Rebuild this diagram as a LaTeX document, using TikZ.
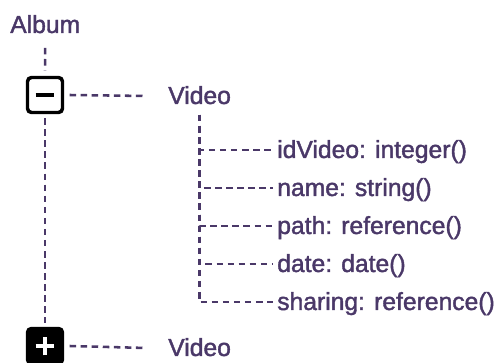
\documentclass[tikz,border=0pt]{standalone}
\usepackage{fontspec}
\setmainfont{Liberation Sans}
\newfontfamily\treefont[FakeBold=1.6]{Liberation Sans}
\definecolor{ink}{RGB}{74,56,104}
\begin{document}
\begin{tikzpicture}[x=0.75pt,y=-0.75pt,
  conn/.style={draw=ink, line width=1.9pt, dash pattern=on 4.9pt off 3.4pt},
  txt/.style={text=ink, font=\treefont\fontsize{18.5}{22}\selectfont, inner sep=0pt,
    text height=12pt, text depth=0pt, anchor=west},
  togglebox/.style={draw=black, line width=2.6pt, rounded corners=3pt,
    minimum size=26.25pt, inner sep=0pt},
]
\useasboundingbox (0,0) rectangle (497,363);

% tree nodes
\node[txt] (album) at (10,25) {Album};
\node[togglebox] (minus) at (45,95) {};
\node[txt] (v1) at (168,96) {Video};
\node[txt] (a1) at (277,150) {idVideo: integer()};
\node[txt] (a2) at (277,188) {name: string()};
\node[txt] (a3) at (277,226) {path: reference()};
\node[txt] (a4) at (277,264) {date: date()};
\node[txt] (a5) at (277,302) {sharing: reference()};
\node[togglebox, fill=black] (plus) at (45,346) {};
\node[txt] (v2) at (168,348) {Video};

% expand / collapse glyphs
\draw[line width=3pt] ([xshift=-7pt]minus.center) -- ([xshift=7pt]minus.center);
\draw[white, line width=3pt]
  ([xshift=-7pt]plus.center) -- ([xshift=7pt]plus.center)
  ([yshift=-7pt]plus.center) -- ([yshift=7pt]plus.center);

% connectors
\draw[conn] ([yshift=-11pt]album.south) -- ([yshift=4pt]minus.north);
\draw[conn] ([yshift=-3pt]minus.south) -- ([yshift=3pt]plus.north);
\draw[conn] ([xshift=4pt]minus.east) -- ([xshift=-16pt]v1.west);
\draw[conn] ([xshift=4pt]plus.east) -- ([xshift=-16pt]v2.west);
\foreach \a in {a1,a2,a3,a4,a5}
  \draw[conn] ([yshift=-8pt]v1.south) |- ([xshift=-3pt]\a.west);
\end{tikzpicture}
\end{document}
